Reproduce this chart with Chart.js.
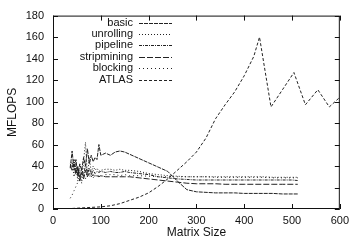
<!DOCTYPE html>
<html>
<head>
<meta charset="utf-8">
<script src="https://cdn.jsdelivr.net/npm/chart.js@4"></script>
<style>
  html, body { margin: 0; padding: 0; background: #fff; }
  #wrap { width: 354px; height: 242px; }
</style>
</head>
<body>
<div id="wrap"><canvas id="mflopsChart"></canvas></div>
<script>
// matrix sizes for the compiler variants
const sizes = [36, 40, 44, 48, 52, 56, 60, 64, 68, 72, 76, 80, 84, 88, 92, 96, 100, 110, 120, 130,
  140, 150, 160, 180, 200, 220, 240, 260, 280, 300, 320, 340, 360, 380, 400, 420, 440, 460, 480, 500, 512];

const basic = [38, 54, 36, 46, 30, 42, 36, 48, 40, 56, 42, 50, 44, 48, 46, 60, 50, 52, 50, 53,
  54, 53, 51, 47, 43, 39, 35, 26, 18, 16, 15.5, 15, 15, 15, 14.5, 14.5, 14.5, 14.5, 14, 14, 14];
const unrolling = [40, 44, 30, 40, 26, 36, 24, 45, 62, 30, 48, 34, 40, 36, 38, 35, 36, 37, 37, 36,
  37, 36, 36, 35, 33, 32, 31, 30.5, 30, 30, 30, 30, 30, 30, 30, 30, 30, 29.5, 29.5, 29.5, 29.5];
const pipeline = [42, 38, 46, 34, 40, 28, 38, 30, 42, 33, 38, 32, 36, 33, 35, 34, 35, 34, 35, 34,
  34, 35, 34, 33, 32, 30, 29, 28, 27.5, 27, 27, 27, 27, 27, 27, 27, 27, 27, 27, 27, 26.5];
const stripmining = [40, 36, 42, 32, 38, 26, 34, 28, 36, 30, 33, 30, 32, 30, 31, 30, 31, 30, 30, 30,
  30, 30, 30, 29, 28, 27, 26, 25, 24, 23.5, 23.5, 23.5, 23, 23, 23, 23, 23, 23, 23, 23, 23];
const blocking = [10, 13, 17, 21, 25, 28, 30, 34, 28, 36, 30, 33, 29, 32, 30, 31, 30, 32, 32, 32,
  31, 32, 31, 31, 30.5, 30, 30, 30, 30, 30, 30, 29.5, 29.5, 29.5, 29.5, 29.5, 29.5, 29, 29, 29, 29];

// ATLAS was measured on its own sizes
const atlasSizes = [40, 60, 80, 100, 120, 140, 160, 180, 200, 220, 240, 260, 280, 300, 320, 340, 360,
  380, 400, 420, 432, 456, 480, 504, 528, 554, 578, 600];
const atlas = [0.5, 1, 1.5, 2, 3, 5, 8, 11, 15, 21, 28, 36, 44, 53, 66, 84, 97,
  109, 124, 142, 160, 95, 111, 127, 97, 111, 95, 104];

const xTicks = [0, 100, 200, 300, 400, 500, 600];
const yTicks = [0, 20, 40, 60, 80, 100, 120, 140, 160, 180];

const FONT = "'Liberation Sans', Arial, sans-serif";
const INK = "#222";

function toPoints(xs, ys) {
  return xs.map((x, i) => ({ x: x, y: ys[i] }));
}

function series(label, xs, ys, dash) {
  return {
    label: label,
    data: toPoints(xs, ys),
    borderColor: INK,
    borderWidth: 1,
    borderDash: dash,
    pointRadius: 0,
    tension: 0,
    fill: false,
  };
}

// gnuplot style frame with inward ticks and a right aligned key
const framePlugin = {
  id: "frame",
  afterDraw(chart) {
    const ctx = chart.ctx;
    const a = chart.chartArea;
    const xs = chart.scales.x;
    const ys = chart.scales.y;
    ctx.save();
    ctx.strokeStyle = "#111";
    ctx.lineWidth = 1;
    ctx.setLineDash([]);
    ctx.strokeRect(a.left + 0.5, a.top + 0.5, a.right - a.left - 1, a.bottom - a.top - 1);
    ctx.beginPath();
    xTicks.forEach((v) => {
      const px = Math.round(xs.getPixelForValue(v)) + 0.5;
      ctx.moveTo(px, a.bottom);
      ctx.lineTo(px, a.bottom - 5);
      ctx.moveTo(px, a.top);
      ctx.lineTo(px, a.top + 5);
    });
    yTicks.forEach((v) => {
      const py = Math.round(ys.getPixelForValue(v)) + 0.5;
      ctx.moveTo(a.left, py);
      ctx.lineTo(a.left + 5, py);
      ctx.moveTo(a.right, py);
      ctx.lineTo(a.right - 5, py);
    });
    ctx.stroke();

    // key
    ctx.font = "11px " + FONT;
    ctx.fillStyle = "#111";
    ctx.textAlign = "right";
    ctx.textBaseline = "middle";
    chart.data.datasets.forEach((ds, i) => {
      const y = 22.5 + i * 11.4;
      ctx.fillText(ds.label, 133, y);
      ctx.beginPath();
      ctx.setLineDash(ds.borderDash || []);
      ctx.strokeStyle = ds.borderColor;
      ctx.moveTo(139, Math.round(y) + 0.5);
      ctx.lineTo(172, Math.round(y) + 0.5);
      ctx.stroke();
    });
    ctx.restore();
  },
};

const ctx = document.getElementById("mflopsChart");

new Chart(ctx, {
  type: "line",
  data: {
    datasets: [
      series("basic", sizes, basic, [4, 1]),
      series("unrolling", sizes, unrolling, [1, 2]),
      series("pipeline", sizes, pipeline, [3, 1, 1, 1]),
      series("stripmining", sizes, stripmining, [6, 2]),
      series("blocking", sizes, blocking, [1, 3]),
      series("ATLAS", atlasSizes, atlas, [3, 2]),
    ],
  },
  options: {
    responsive: true,
    maintainAspectRatio: false,
    animation: false,
    layout: {
      padding: { left: 0, right: 9, top: 11, bottom: 0 },
    },
    scales: {
      x: {
        type: "linear",
        min: 0,
        max: 600,
        afterBuildTicks: (scale) => {
          scale.ticks = xTicks.map((v) => ({ value: v }));
        },
        afterFit: (scale) => {
          scale.height = 33;
        },
        grid: { display: false, drawTicks: false },
        border: { display: false },
        ticks: {
          padding: 5,
          color: "#111",
          font: { family: FONT, size: 11 },
          maxRotation: 0,
        },
        title: {
          display: true,
          text: "Matrix Size",
          color: "#111",
          font: { family: FONT, size: 12 },
          padding: { top: 0, bottom: 2 },
        },
      },
      y: {
        type: "linear",
        min: 0,
        max: 180,
        afterBuildTicks: (scale) => {
          scale.ticks = yTicks.map((v) => ({ value: v }));
        },
        afterFit: (scale) => {
          scale.width = 53;
        },
        grid: { display: false, drawTicks: false },
        border: { display: false },
        ticks: {
          padding: 9,
          color: "#111",
          font: { family: FONT, size: 11 },
        },
        title: {
          display: true,
          text: "MFLOPS",
          color: "#111",
          font: { family: FONT, size: 12 },
          padding: { top: 5, bottom: 0 },
        },
      },
    },
    plugins: {
      legend: { display: false },
      tooltip: { enabled: false },
    },
  },
  plugins: [framePlugin],
});
</script>
</body>
</html>
